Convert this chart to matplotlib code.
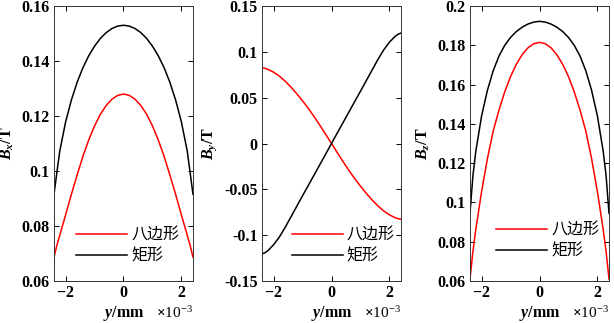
import matplotlib
matplotlib.use("Agg")
import matplotlib.pyplot as plt
from matplotlib.ticker import FormatStrFormatter

plt.rcParams['font.family'] = ['Liberation Serif', 'Noto Sans CJK SC']
plt.rcParams['mathtext.fontset'] = 'custom'
plt.rcParams['mathtext.rm'] = 'Liberation Serif:bold'
plt.rcParams['mathtext.it'] = 'Liberation Serif:italic:bold'
plt.rcParams['mathtext.bf'] = 'Liberation Serif:bold'
plt.rcParams['axes.unicode_minus'] = False

# 位置 (x10^-3)
y_pos = [-2.4, -2.3, -2.2, -2.0, -1.8, -1.6, -1.4, -1.2, -1.0, -0.8, -0.6, -0.4, -0.2, 0.0,
         0.2, 0.4, 0.6, 0.8, 1.0, 1.2, 1.4, 1.6, 1.8, 2.0, 2.2, 2.3, 2.4]

# Bx
bx_oct = [0.0687, 0.0730, 0.0767, 0.0840, 0.0915, 0.0986, 0.1054, 0.1113, 0.1164, 0.1206, 0.1238, 0.1261, 0.1275, 0.1280,
          0.1275, 0.1261, 0.1238, 0.1206, 0.1164, 0.1113, 0.1054, 0.0986, 0.0915, 0.0840, 0.0767, 0.0730, 0.0687]
bx_rect = [0.0915, 0.0995, 0.1073, 0.1178, 0.1258, 0.1323, 0.1376, 0.1419, 0.1454, 0.1482, 0.1503, 0.1518, 0.1527, 0.1530,
           0.1527, 0.1518, 0.1503, 0.1482, 0.1454, 0.1419, 0.1376, 0.1323, 0.1258, 0.1178, 0.1073, 0.0995, 0.0915]

# By
by_oct = [0.0826, 0.0820, 0.0810, 0.0778, 0.0735, 0.0680, 0.0615, 0.0543, 0.0465, 0.0383, 0.0293, 0.0198, 0.0100, 0.0,
          -0.0100, -0.0198, -0.0293, -0.0383, -0.0465, -0.0543, -0.0615, -0.0680, -0.0735, -0.0778, -0.0810, -0.0820, -0.0826]
by_rect = [-0.1205, -0.1192, -0.1170, -0.1105, -0.1020, -0.0915, -0.0800, -0.0685, -0.0570, -0.0457, -0.0343, -0.0229, -0.0115, 0.0,
           0.0115, 0.0229, 0.0343, 0.0457, 0.0570, 0.0685, 0.0800, 0.0915, 0.1020, 0.1105, 0.1170, 0.1192, 0.1205]

# Bz
bz_oct = [0.0610, 0.0750, 0.0862, 0.1055, 0.1222, 0.1363, 0.1470, 0.1563, 0.1641, 0.1703, 0.1752, 0.1787, 0.1808, 0.1815,
          0.1808, 0.1787, 0.1752, 0.1703, 0.1641, 0.1563, 0.1470, 0.1363, 0.1222, 0.1055, 0.0862, 0.0750, 0.0610]
bz_rect = [0.0945, 0.1135, 0.1260, 0.1440, 0.1570, 0.1670, 0.1745, 0.1800, 0.1840, 0.1870, 0.1892, 0.1908, 0.1918, 0.1922,
           0.1918, 0.1908, 0.1892, 0.1870, 0.1840, 0.1800, 0.1745, 0.1670, 0.1570, 0.1440, 0.1260, 0.1135, 0.0945]

x_ticks = [-2e-3, 0, 2e-3]
bx_ticks = [0.06, 0.08, 0.1, 0.12, 0.14, 0.16]
by_ticks = [-0.15, -0.1, -0.05, 0, 0.05, 0.1, 0.15]
bz_ticks = [0.06, 0.08, 0.1, 0.12, 0.14, 0.16, 0.18, 0.2]

labels = ['八边形', '矩形']

panels = [
    (bx_oct, bx_rect, bx_ticks, r'$B_x$/T', 54, (0.53, 0.128)),
    (by_oct, by_rect, by_ticks, r'$B_y$/T', 262, (0.585, 0.13)),
    (bz_oct, bz_rect, bz_ticks, r'$B_z$/T', 470, (0.56, 0.146)),
]

W, H = 614, 323
fig = plt.figure(figsize=(W / 100, H / 100), dpi=100)
xs = [v * 1e-3 for v in y_pos]

for oct_v, rect_v, yt, ylab, left, leg_pos in panels:
    ax = fig.add_axes([left / W, 1 - 281 / H, 139 / W, 275 / H])
    ax.plot(xs, oct_v, color='red', lw=1.1, label=labels[0])
    ax.plot(xs, rect_v, color='black', lw=1.1, label=labels[1])
    ax.set_xlim(-2.4e-3, 2.4e-3)
    ax.set_ylim(yt[0], yt[-1])
    ax.set_xticks(x_ticks)
    ax.set_yticks(yt)
    ax.yaxis.set_major_formatter(FormatStrFormatter('%g'))
    ax.ticklabel_format(axis='x', style='sci', scilimits=(0, 0), useMathText=True)
    ax.xaxis.get_offset_text().set_fontsize(11)
    ax.xaxis.get_offset_text().set_fontweight('normal')
    ax.tick_params(direction='in', top=True, right=True, length=3.5, width=0.7,
                   labelsize=11.5, pad=3)
    for t in ax.get_xticklabels() + ax.get_yticklabels():
        t.set_fontweight('bold')
    for s in ax.spines.values():
        s.set_linewidth(0.7)
        s.set_color('#333333')
    ax.set_ylabel(ylab, fontsize=11.5, fontweight='bold', labelpad=4)
    ax.set_xlabel(r'$y$/mm', fontsize=11.5, fontweight='bold', labelpad=2)
    ax.legend(loc='center', bbox_to_anchor=leg_pos, frameon=False,
              prop={'family': 'Noto Sans CJK SC', 'size': 11.5},
              handlelength=3.2, handletextpad=0.25, labelspacing=0.25,
              borderpad=0.2)

fig.savefig('out.png', dpi=100)
